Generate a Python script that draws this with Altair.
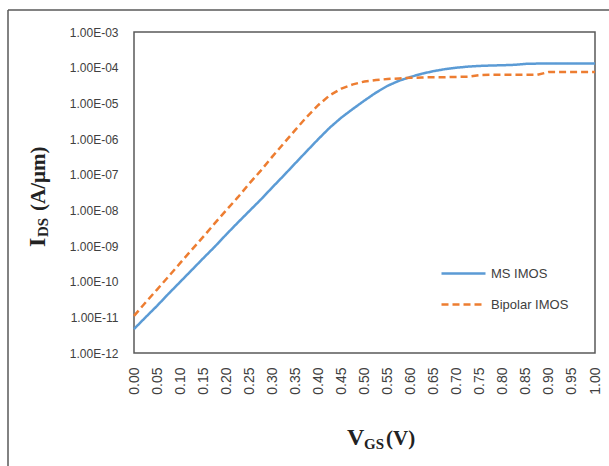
import altair as alt
import pandas as pd

# Gate voltage (V)
vgs = [0.000, 0.025, 0.050, 0.075, 0.100, 0.125, 0.150, 0.175, 0.200, 0.225,
       0.250, 0.275, 0.300, 0.325, 0.350, 0.375, 0.400, 0.425, 0.450, 0.475,
       0.500, 0.525, 0.550, 0.575, 0.600, 0.625, 0.650, 0.675, 0.700, 0.725,
       0.750, 0.775, 0.800, 0.825, 0.850, 0.875, 0.900, 0.925, 0.950, 0.975, 1.000]

# Drain current (A/um)
ms_imos = [4.7e-12, 1.0e-11, 2.1e-11, 4.6e-11, 9.8e-11, 2.1e-10, 4.5e-10, 9.5e-10, 2.1e-9, 4.5e-9,
           9.5e-9, 2.0e-8, 4.4e-8, 9.5e-8, 2.1e-7, 4.6e-7, 1.0e-6, 2.1e-6, 4.0e-6, 7.0e-6,
           1.2e-5, 2.0e-5, 3.1e-5, 4.3e-5, 5.5e-5, 6.8e-5, 8.0e-5, 9.1e-5, 1.0e-4, 1.07e-4,
           1.12e-4, 1.15e-4, 1.17e-4, 1.2e-4, 1.28e-4, 1.3e-4, 1.3e-4, 1.3e-4, 1.3e-4, 1.3e-4, 1.3e-4]

bipolar_imos = [1.1e-11, 2.6e-11, 6.0e-11, 1.4e-10, 3.3e-10, 7.8e-10, 1.8e-9, 4.3e-9, 1.0e-8, 2.3e-8,
                5.6e-8, 1.3e-7, 3.2e-7, 7.6e-7, 1.8e-6, 4.2e-6, 9.0e-6, 1.7e-5, 2.6e-5, 3.4e-5,
                4.1e-5, 4.5e-5, 4.8e-5, 5.0e-5, 5.2e-5, 5.3e-5, 5.4e-5, 5.4e-5, 5.5e-5, 5.6e-5,
                6.2e-5, 6.3e-5, 6.3e-5, 6.3e-5, 6.3e-5, 6.3e-5, 7.6e-5, 7.6e-5, 7.6e-5, 7.6e-5, 7.6e-5]

series_names = ["MS IMOS", "Bipolar IMOS"]
series_colors = ["#5B9BD5", "#ED7D31"]

x_ticks = [round(i * 0.05, 2) for i in range(21)]
y_ticks = [1e-12, 1e-11, 1e-10, 1e-9, 1e-8, 1e-7, 1e-6, 1e-5, 1e-4, 1e-3]

rows = []
for v, a, b in zip(vgs, ms_imos, bipolar_imos):
    rows.append({"Vgs": v, "Ids": a, "Device": series_names[0]})
    rows.append({"Vgs": v, "Ids": b, "Device": series_names[1]})
df = pd.DataFrame(rows)

W, H = 461, 321
LBL = "Liberation Sans"

y_label_expr = ("'1.00E-' + (-round(log(datum.value)/LN10) < 10 ? '0' : '') "
                "+ toString(-round(log(datum.value)/LN10))")

lines = alt.Chart(df).mark_line(strokeWidth=2.5, strokeCap="butt").encode(
    x=alt.X("Vgs:Q", scale=alt.Scale(domain=[0, 1], nice=False),
            axis=alt.Axis(values=x_ticks, format=".2f", labelAngle=270, title=None,
                          grid=False, ticks=False, domain=False, labelPadding=14,
                          labelFont=LBL, labelFontSize=14, labelColor="#404040")),
    y=alt.Y("Ids:Q", scale=alt.Scale(type="log", domain=[1e-12, 1e-3], nice=False),
            axis=alt.Axis(values=y_ticks, labelExpr=y_label_expr, title=None,
                          grid=False, ticks=False, domain=False, labelPadding=16,
                          labelFont=LBL, labelFontSize=12, labelColor="#404040")),
    color=alt.Color("Device:N", scale=alt.Scale(domain=series_names, range=series_colors),
                    legend=alt.Legend(title=None, orient="none", legendX=306, legendY=218,
                                      symbolType="stroke", symbolSize=1936,
                                      symbolStrokeWidth=2.5, labelFont=LBL,
                                      labelFontSize=13, labelColor="#404040",
                                      rowPadding=-2, labelOffset=4)),
    strokeDash=alt.StrokeDash("Device:N",
                              scale=alt.Scale(domain=series_names, range=[[1, 0], [7, 4]]),
                              legend=None),
)

frame_top = alt.Chart(pd.DataFrame({"k": [0]})).mark_rule(color="#595959", strokeWidth=1.5).encode(
    x=alt.value(-126), x2=alt.value(480), y=alt.value(-22))
frame_left = alt.Chart(pd.DataFrame({"k": [0]})).mark_rule(color="#595959", strokeWidth=1.5).encode(
    x=alt.value(-126), y=alt.value(-22), y2=alt.value(440))

SERIF = "Liberation Serif"

def txt(s, x, y, size, angle=0):
    return alt.Chart(pd.DataFrame({"t": [s]})).mark_text(
        font=SERIF, fontWeight="bold", fontSize=size, align="left",
        baseline="alphabetic", angle=angle, color="#222222").encode(
        text="t:N", x=alt.value(x), y=alt.value(y))

# y-axis title I_DS (A/um), rotated
yt_i = txt("I", -89, 215, 24, 270)
yt_ds = txt("DS", -86, 205, 15, 270)
yt_rest = txt("(A/μm)", -89, 179, 21, 270)

# x-axis title V_GS(V)
xt_v = txt("V", 213, 413, 24)
xt_gs = txt("GS", 230, 417, 15)
xt_rest = txt("(V)", 252, 413, 21)

chart = alt.layer(
    frame_top, frame_left, lines, yt_i, yt_ds, yt_rest, xt_v, xt_gs, xt_rest
).properties(
    width=W, height=H,
    autosize=alt.AutoSizeParams(type="none"),
    padding={"left": 134, "top": 32, "right": 14, "bottom": 113},
    background="white",
).configure_view(stroke="#595959", strokeWidth=1.5)

chart.save("out.html", embed_options={"renderer": "svg", "actions": False})
